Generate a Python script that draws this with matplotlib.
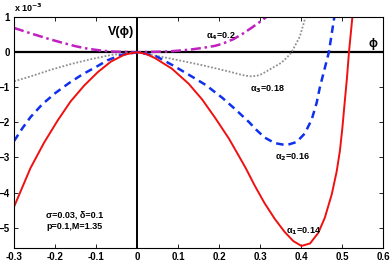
#!/usr/bin/env python3
import matplotlib
matplotlib.use('Agg')
import matplotlib.pyplot as plt

# potential curves, V in units of 1e-3
phi_a1 = [-0.30, -0.26, -0.227, -0.194, -0.162, -0.129, -0.096, -0.064, -0.031,
          0.0, 0.022, 0.044, 0.085, 0.126, 0.159, 0.191, 0.224, 0.248, 0.265,
          0.287, 0.311, 0.336, 0.36, 0.381, 0.401, 0.422, 0.442, 0.458, 0.475,
          0.487, 0.495, 0.501, 0.506, 0.512, 0.517, 0.525, 0.528]
v_a1 = [-4.40, -3.30, -2.58, -1.95, -1.40, -0.95, -0.57, -0.27, -0.07,
        0.0, -0.05, -0.17, -0.47, -0.90, -1.35, -1.88, -2.46, -2.95, -3.30,
        -3.80, -4.30, -4.75, -5.12, -5.38, -5.52, -5.45, -5.15, -4.72, -4.05,
        -3.40, -2.80, -2.15, -1.50, -0.75, 0.0, 0.96, 1.3]

phi_a2 = [-0.30, -0.28, -0.26, -0.231, -0.199, -0.166, -0.133, -0.10, -0.072,
          -0.039, 0.0, 0.044, 0.085, 0.126, 0.167, 0.208, 0.24, 0.273, 0.29,
          0.311, 0.336, 0.364, 0.389, 0.409, 0.426, 0.438, 0.446, 0.457, 0.468,
          0.48, 0.484]
v_a2 = [-2.53, -2.17, -1.85, -1.48, -1.16, -0.88, -0.63, -0.42, -0.23,
        -0.08, 0.0, -0.10, -0.36, -0.64, -0.93, -1.30, -1.63, -1.99, -2.20,
        -2.43, -2.59, -2.65, -2.56, -2.32, -1.92, -1.45, -1.00, -0.50, 0.0,
        0.91, 1.2]

phi_a3 = [-0.30, -0.26, -0.21, -0.162, -0.113, -0.064, 0.0, 0.077, 0.159,
          0.224, 0.25, 0.265, 0.28, 0.293, 0.303, 0.315, 0.33, 0.352, 0.365,
          0.377, 0.397, 0.409, 0.413]
v_a3 = [-0.83, -0.69, -0.50, -0.34, -0.20, -0.08, 0.0, -0.17, -0.37,
        -0.55, -0.63, -0.67, -0.69, -0.67, -0.63, -0.55, -0.45, -0.30, -0.16,
        0.0, 0.44, 0.92, 1.1]

phi_a4 = [-0.30, -0.255, -0.216, -0.186, -0.15, -0.121, -0.09, -0.064, 0.0,
          0.077, 0.127, 0.159, 0.19, 0.208, 0.235, 0.257, 0.28, 0.304, 0.315]
v_a4 = [0.69, 0.52, 0.38, 0.28, 0.17, 0.10, 0.05, 0.02, 0.0,
        0.02, 0.07, 0.12, 0.18, 0.24, 0.37, 0.52, 0.70, 0.90, 1.0]

xticks = [-0.3, -0.2, -0.1, 0, 0.1, 0.2, 0.3, 0.4, 0.5, 0.6]
xticklabels = ['-0.3', '-0.2', '-0.1', '0', '0.1', '0.2', '0.3', '0.4', '0.5', '0.6']
yticks = [-5, -4, -3, -2, -1, 0, 1]


def main():
    plt.rcParams['font.family'] = ['Liberation Sans', 'DejaVu Sans']
    plt.rcParams['font.weight'] = 'bold'
    fig = plt.figure(figsize=(3.92, 2.67), dpi=100)
    ax = fig.add_axes([0.036, 0.071, 0.941, 0.865])

    ax.axhline(0, color='black', lw=1.6, zorder=1)
    ax.axvline(0, color='black', lw=1.4, zorder=1)

    ax.plot(phi_a4, v_a4, color='#c020c0', ls=(0, (4, 1.5, 1, 1.5)), lw=1.8)
    ax.plot(phi_a3, v_a3, color='#909090', ls=(0, (1, 1)), lw=1.3)
    ax.plot(phi_a2, v_a2, color='#1030f0', ls=(0, (3, 2)), lw=1.8)
    ax.plot(phi_a1, v_a1, color='#f01010', ls='-', lw=1.4)

    ax.set_xlim(-0.3, 0.6)
    ax.set_ylim(-5.58, 1.0)
    ax.set_xticks(xticks)
    ax.set_xticklabels(xticklabels)
    ax.set_yticks(yticks)
    ax.tick_params(direction='in', length=3, width=0.6, top=True, right=True,
                   labelsize=7, pad=3)
    for s in ax.spines.values():
        s.set_linewidth(0.8)

    fs = 6.5
    ax.text(-0.3, 1.1, r'x 10$^{-3}$', fontsize=6.5, ha='left', va='bottom')
    ax.text(-0.008, 0.57, 'V(\u03d5)', fontsize=9, ha='right', va='center')
    ax.text(0.576, 0.05, '\u03d5', fontsize=8.5, ha='center', va='bottom')
    ax.text(0.169, 0.46, '\u03b1$_4$=0.2', fontsize=fs, ha='left', va='center')
    ax.text(0.275, -1.07, '\u03b1$_3$=0.18', fontsize=fs, ha='left', va='center')
    ax.text(0.336, -3.0, '\u03b1$_2$=0.16', fontsize=fs, ha='left', va='center')
    ax.text(0.363, -5.1, '\u03b1$_1$=0.14', fontsize=fs, ha='left', va='center')
    ax.text(-0.222, -4.65, '\u03c3=0.03, \u03b4=0.1', fontsize=fs,
            ha='left', va='center')
    ax.text(-0.222, -4.97, 'p=0.1,M=1.35', fontsize=fs, ha='left', va='center')

    fig.savefig('out.png', dpi=100)


if __name__ == '__main__':
    main()
